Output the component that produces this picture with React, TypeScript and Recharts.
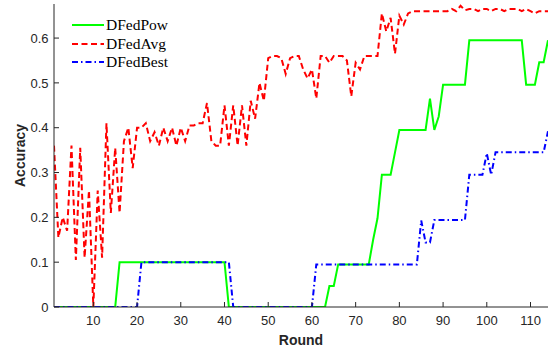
import React from 'react';
import { LineChart, Line, XAxis, YAxis, Legend } from 'recharts';

// accuracy per round
const powAcc = [
  0, 0, 0, 0, 0, 0, 0, 0, 0, 0,
  0, 0, 0, 0, 0, 0.1, 0.1, 0.1, 0.1, 0.1,
  0.1, 0.1, 0.1, 0.1, 0.1, 0.1, 0.1, 0.1, 0.1, 0.1,
  0.1, 0.1, 0.1, 0.1, 0.1, 0.1, 0.1, 0.1, 0.1, 0.1,
  0, 0, 0, 0, 0, 0, 0, 0, 0, 0,
  0, 0, 0, 0, 0, 0, 0, 0, 0, 0,
  0, 0, 0, 0.047, 0.047, 0.095, 0.095, 0.095, 0.095, 0.095,
  0.095, 0.095, 0.095, 0.15, 0.198, 0.295, 0.295, 0.295, 0.345, 0.395,
  0.395, 0.395, 0.395, 0.395, 0.395, 0.395, 0.465, 0.395, 0.425, 0.496,
  0.496, 0.496, 0.496, 0.496, 0.496, 0.595, 0.595, 0.595, 0.595, 0.595,
  0.595, 0.595, 0.595, 0.595, 0.595, 0.595, 0.595, 0.595, 0.496, 0.496,
  0.496, 0.546, 0.546, 0.595,
];

const avgAcc = [
  0.36, 0.155, 0.2, 0.17, 0.36, 0.105, 0.355, 0.11, 0.26, 0,
  0.26, 0.11, 0.41, 0.21, 0.355, 0.21, 0.37, 0.4, 0.31, 0.4,
  0.4, 0.41, 0.37, 0.39, 0.36, 0.4, 0.37, 0.4, 0.36, 0.4,
  0.37, 0.405, 0.405, 0.41, 0.41, 0.455, 0.37, 0.36, 0.36, 0.45,
  0.36, 0.45, 0.36, 0.45, 0.36, 0.46, 0.42, 0.5, 0.46, 0.555,
  0.56, 0.56, 0.555, 0.52, 0.555, 0.56, 0.56, 0.53, 0.51, 0.53,
  0.465, 0.56, 0.56, 0.545, 0.56, 0.56, 0.56, 0.55, 0.47, 0.545,
  0.53, 0.56, 0.56, 0.56, 0.56, 0.655, 0.615, 0.645, 0.565, 0.65,
  0.63, 0.655, 0.66, 0.66, 0.66, 0.66, 0.66, 0.66, 0.66, 0.66,
  0.66, 0.665, 0.66, 0.672, 0.662, 0.665, 0.665, 0.66, 0.665, 0.665,
  0.66, 0.665, 0.665, 0.66, 0.665, 0.665, 0.665, 0.66, 0.665, 0.66,
  0.655, 0.66, 0.66, 0.66,
];

const bestAcc = [
  0, 0, 0, 0, 0, 0, 0, 0, 0, 0,
  0, 0, 0, 0, 0, 0, 0, 0, 0, 0,
  0.1, 0.1, 0.1, 0.1, 0.1, 0.1, 0.1, 0.1, 0.1, 0.1,
  0.1, 0.1, 0.1, 0.1, 0.1, 0.1, 0.1, 0.1, 0.1, 0.1,
  0.1, 0, 0, 0, 0, 0, 0, 0, 0, 0,
  0, 0, 0, 0, 0, 0, 0, 0, 0, 0,
  0.095, 0.095, 0.095, 0.095, 0.095, 0.095, 0.095, 0.095, 0.095, 0.095,
  0.095, 0.095, 0.095, 0.095, 0.095, 0.095, 0.095, 0.095, 0.095, 0.095,
  0.095, 0.095, 0.095, 0.095, 0.193, 0.144, 0.144, 0.194, 0.194, 0.194,
  0.194, 0.194, 0.194, 0.194, 0.194, 0.295, 0.295, 0.295, 0.295, 0.343,
  0.295, 0.345, 0.345, 0.345, 0.345, 0.345, 0.345, 0.345, 0.345, 0.345,
  0.345, 0.345, 0.345, 0.392,
];

const xTicks = [10, 20, 30, 40, 50, 60, 70, 80, 90, 100, 110];
const yTicks = [0, 0.1, 0.2, 0.3, 0.4, 0.5, 0.6];

const series = [
  { key: 'pow', name: 'DFedPow', color: '#00ff00', dash: undefined },
  { key: 'avg', name: 'DFedAvg', color: '#ff0000', dash: '6 3.5' },
  { key: 'best', name: 'DFedBest', color: '#0000ff', dash: '6 3 1.5 3' },
];

const data = avgAcc.map((_, i) => ({
  round: i + 1,
  pow: powAcc[i],
  avg: avgAcc[i],
  best: bestAcc[i],
}));

const axisColor = '#262626';
const sans = '"Liberation Sans", Arial, sans-serif';
const tickStyle = { fontSize: 13, fill: axisColor, fontFamily: sans };

const renderLegend = () => (
  <div style={{ fontFamily: '"Liberation Serif", "Times New Roman", serif', fontSize: 15.5, color: '#000' }}>
    {series.map(s => (
      <div key={s.key} style={{ display: 'flex', alignItems: 'center', height: 18.4 }}>
        <svg width={32} height={4} style={{ display: 'block' }}>
          <line x1={0} y1={2} x2={32} y2={2} stroke={s.color} strokeWidth={2} strokeDasharray={s.dash} />
        </svg>
        <span style={{ marginLeft: 2, lineHeight: '18px' }}>{s.name}</span>
      </div>
    ))}
  </div>
);

const App: React.FC = () => {
  return (
    <div style={{ position: 'absolute', left: 0, top: 0 }}>
      <LineChart width={556} height={347} data={data} margin={{ top: 4, right: 8, bottom: 0, left: 0 }}>
        <XAxis
          dataKey="round"
          type="number"
          domain={[1, 114]}
          ticks={xTicks}
          allowDataOverflow
          height={40}
          stroke={axisColor}
          tickSize={-5}
          tickMargin={14}
          tick={tickStyle}
          label={(props: any) => {
            const vb = props.viewBox || {};
            return (
              <text x={vb.x + vb.width / 2} y={340} textAnchor="middle" dominantBaseline="central"
                fontFamily={sans} fontWeight="bold" fontSize={14} fill={axisColor}>Round</text>
            );
          }}
        />
        <XAxis
          xAxisId="top"
          orientation="top"
          type="number"
          domain={[1, 114]}
          ticks={xTicks}
          allowDataOverflow
          height={0}
          stroke={axisColor}
          tickSize={-5}
          tickFormatter={() => ''}
        />
        <YAxis
          type="number"
          domain={[0, 0.676]}
          ticks={yTicks}
          allowDataOverflow
          width={54}
          stroke={axisColor}
          tickSize={-5}
          tickMargin={10.5}
          tick={tickStyle}
          tickFormatter={(v: number) => (v === 0 ? '0' : v.toFixed(1))}
          label={(props: any) => {
            const vb = props.viewBox || {};
            const cy = vb.y + vb.height / 2;
            return (
              <text x={20} y={cy} transform={`rotate(-90 20 ${cy})`} textAnchor="middle" dominantBaseline="central"
                fontFamily={sans} fontWeight="bold" fontSize={14} fill={axisColor}>Accuracy</text>
            );
          }}
        />
        <YAxis
          yAxisId="right"
          orientation="right"
          type="number"
          domain={[0, 0.676]}
          ticks={yTicks}
          allowDataOverflow
          width={0}
          stroke={axisColor}
          tickSize={-5}
          tickFormatter={() => ''}
        />
        <Legend
          layout="vertical"
          align="center"
          verticalAlign="middle"
          content={renderLegend}
          wrapperStyle={{ left: 72, top: 16, width: 'auto', height: 'auto' }}
        />
        {series.map(s => (
          <Line
            key={s.key}
            dataKey={s.key}
            name={s.name}
            stroke={s.color}
            strokeWidth={2}
            strokeDasharray={s.dash}
            dot={false}
            activeDot={false}
            isAnimationActive={false}
          />
        ))}
      </LineChart>
    </div>
  );
};

export default App;
